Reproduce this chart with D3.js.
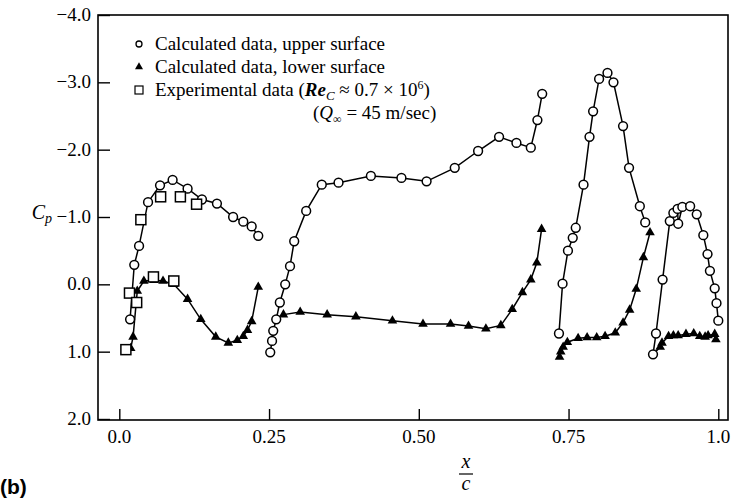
<!DOCTYPE html>
<html><head><meta charset="utf-8">
<script src="https://cdn.jsdelivr.net/npm/d3@7/dist/d3.min.js"></script>
<style>body{margin:0;background:#fff}svg{display:block}</style>
</head><body>
<svg id="c" width="736" height="498"></svg>
<script>
// ---- data ----
const xTickVals = [0, 0.25, 0.5, 0.75, 1.0];
const xTickLabels = ["0.0", "0.25", "0.50", "0.75", "1.0"];
const yTickVals = [-4, -3, -2, -1, 0, 1, 2];
const yTickLabels = ["\u22124.0", "\u22123.0", "\u22122.0", "\u22121.0", "0.0", "1.0", "2.0"];

const slatUpper = [[0.018,0.52],[0.025,-0.29],[0.033,-0.57],[0.048,-1.22],[0.068,-1.47],[0.089,-1.55],[0.114,-1.42],[0.138,-1.26],[0.163,-1.2],[0.19,-1.0],[0.207,-0.93],[0.221,-0.86],[0.232,-0.72]];
const slatLower = [[0.019,0.95],[0.023,0.78],[0.030,0.1],[0.041,-0.05],[0.058,-0.06],[0.073,-0.05],[0.091,0.0],[0.114,0.22],[0.136,0.52],[0.161,0.78],[0.182,0.87],[0.197,0.83],[0.207,0.77],[0.214,0.68],[0.221,0.55],[0.232,0.04]];
const mainUpper = [[0.252,1.01],[0.255,0.84],[0.257,0.69],[0.262,0.52],[0.268,0.27],[0.277,0.0],[0.285,-0.27],[0.292,-0.64],[0.312,-1.09],[0.338,-1.48],[0.366,-1.51],[0.42,-1.61],[0.471,-1.58],[0.513,-1.53],[0.56,-1.73],[0.599,-1.98],[0.634,-2.19],[0.663,-2.1],[0.687,-2.03],[0.698,-2.44],[0.706,-2.83]];
const mainLower = [[0.274,0.45],[0.302,0.41],[0.347,0.45],[0.395,0.48],[0.456,0.54],[0.507,0.59],[0.553,0.59],[0.583,0.62],[0.612,0.66],[0.637,0.61],[0.656,0.37],[0.673,0.12],[0.687,-0.07],[0.697,-0.32],[0.705,-0.82]];
const flap1Upper = [[0.734,0.73],[0.74,-0.01],[0.749,-0.5],[0.757,-0.69],[0.762,-0.84],[0.775,-1.48],[0.785,-2.19],[0.791,-2.57],[0.801,-3.05],[0.815,-3.14],[0.825,-3.0],[0.841,-2.35],[0.851,-1.73],[0.869,-1.16],[0.878,-0.92]];
const flap1Lower = [[0.735,1.08],[0.737,1.0],[0.741,0.93],[0.748,0.86],[0.766,0.8],[0.781,0.79],[0.797,0.79],[0.811,0.77],[0.828,0.72],[0.841,0.57],[0.852,0.38],[0.863,0.07],[0.875,-0.4],[0.886,-0.77]];
const flap2Upper = [[0.891,1.04],[0.896,0.73],[0.907,-0.07],[0.919,-0.94],[0.925,-1.06],[0.932,-1.12],[0.933,-0.9],[0.94,-1.15],[0.953,-1.16],[0.964,-1.04],[0.975,-0.73],[0.982,-0.45],[0.986,-0.2],[0.994,0.06],[0.997,0.28],[1.0,0.54]];
const flap2Lower = [[0.903,0.93],[0.906,0.87],[0.917,0.77],[0.925,0.76],[0.933,0.76],[0.946,0.74],[0.959,0.73],[0.969,0.77],[0.978,0.78],[0.983,0.76],[0.994,0.74],[0.996,0.82]];
const experimental = [[0.011,0.97],[0.017,0.13],[0.029,0.27],[0.036,-0.96],[0.057,-0.11],[0.069,-1.3],[0.091,-0.05],[0.102,-1.3],[0.129,-1.19]];

const legendLabels = ["Calculated data, upper surface", "Calculated data, lower surface"];

// ---- drawing ----
const svg = d3.select("#c");
const serif = "'Liberation Serif','Times New Roman',serif";
const x = d3.scaleLinear().domain([0, 1]).range([119.3, 718.3]);
const y = d3.scaleLinear().domain([-4, 2]).range([15, 419]);
const frame = {l: 98, r: 728, t: 15, b: 420};

const g = svg.append("g");
g.append("rect").attr("x", frame.l).attr("y", frame.t).attr("width", frame.r - frame.l).attr("height", frame.b - frame.t)
  .attr("fill", "none").attr("stroke", "#000").attr("stroke-width", 1.6);

// y axis (ticks inward)
const yAxis = d3.axisRight(y).tickValues(yTickVals).tickSize(12).tickFormat("");
const ya = g.append("g").attr("transform", `translate(${frame.l},0)`).call(yAxis);
ya.select(".domain").remove();
ya.selectAll("line").attr("stroke-width", 1.4);
g.selectAll(".ylab").data(yTickVals).enter().append("text")
  .attr("x", 91).attr("y", d => y(d) + 6).attr("text-anchor", "end")
  .attr("font-family", serif).attr("font-size", 19).text((d, i) => yTickLabels[i]);

// x axis (ticks inward)
const xAxis = d3.axisTop(x).tickValues(xTickVals).tickSize(11).tickFormat("");
const xa = g.append("g").attr("transform", `translate(0,${frame.b})`).call(xAxis);
xa.select(".domain").remove();
xa.selectAll("line").attr("stroke-width", 1.4);
g.selectAll(".xlab").data(xTickVals).enter().append("text")
  .attr("x", d => x(d)).attr("y", 443).attr("text-anchor", "middle")
  .attr("font-family", serif).attr("font-size", 19).text((d, i) => xTickLabels[i]);

// axis titles
const cp = g.append("text").attr("x", 52).attr("y", 219).attr("text-anchor", "end")
  .attr("font-family", serif).attr("font-size", 20).attr("font-style", "italic");
cp.append("tspan").text("C");
cp.append("tspan").attr("font-size", 14).attr("dy", 4).text("p");

g.append("text").attr("x", 466).attr("y", 468).attr("text-anchor", "middle")
  .attr("font-family", serif).attr("font-size", 20).attr("font-style", "italic").text("x");
g.append("line").attr("x1", 459).attr("x2", 473).attr("y1", 474).attr("y2", 474).attr("stroke", "#000").attr("stroke-width", 1.2);
g.append("text").attr("x", 466).attr("y", 490).attr("text-anchor", "middle")
  .attr("font-family", serif).attr("font-size", 20).attr("font-style", "italic").text("c");

g.append("text").attr("x", 0).attr("y", 494).attr("font-family", "'Liberation Sans',Arial,sans-serif")
  .attr("font-weight", "bold").attr("font-size", 21).text("(b)");

// lines
const line = d3.line().x(d => x(d[0])).y(d => y(d[1]));
[slatUpper, slatLower, mainUpper, mainLower, flap1Upper, flap1Lower, flap2Upper,
 [flap2Upper[0]].concat(flap2Lower)].forEach(s => {
  g.append("path").attr("d", line(s)).attr("fill", "none").attr("stroke", "#000").attr("stroke-width", 1.5);
});

const tri = d3.symbol().type(d3.symbolTriangle).size(40);
[slatLower, mainLower, flap1Lower, flap2Lower].forEach(s => {
  g.append("g").selectAll("path").data(s).enter().append("path")
    .attr("d", tri).attr("transform", d => `translate(${x(d[0])},${y(d[1])})`).attr("fill", "#000");
});
[slatUpper, mainUpper, flap1Upper, flap2Upper].forEach(s => {
  g.append("g").selectAll("circle").data(s).enter().append("circle")
    .attr("cx", d => x(d[0])).attr("cy", d => y(d[1])).attr("r", 4.4)
    .attr("fill", "#fff").attr("stroke", "#000").attr("stroke-width", 1.5);
});
g.append("g").selectAll("rect").data(experimental).enter().append("rect")
  .attr("x", d => x(d[0]) - 5).attr("y", d => y(d[1]) - 5).attr("width", 10).attr("height", 10)
  .attr("fill", "#fff").attr("stroke", "#000").attr("stroke-width", 1.5);

// legend
const lg = g.append("g");
const ly = [44, 67, 90];
lg.append("circle").attr("cx", 139).attr("cy", ly[0]).attr("r", 3).attr("fill", "#fff").attr("stroke", "#000").attr("stroke-width", 1.3);
lg.append("path").attr("d", d3.symbol().type(d3.symbolTriangle).size(28)).attr("transform", `translate(139,${ly[1]})`).attr("fill", "#000");
lg.append("rect").attr("x", 135).attr("y", ly[2] - 4).attr("width", 8).attr("height", 8).attr("fill", "#fff").attr("stroke", "#000").attr("stroke-width", 1.2);
legendLabels.forEach((t, i) => {
  lg.append("text").attr("x", 155).attr("y", ly[i] + 6).attr("font-family", serif).attr("font-size", 19).text(t);
});
const t3 = lg.append("text").attr("x", 155).attr("y", ly[2] + 6).attr("font-family", serif).attr("font-size", 19);
t3.append("tspan").text("Experimental data (");
t3.append("tspan").attr("font-style", "italic").attr("font-weight", "bold").text("Re");
t3.append("tspan").attr("font-style", "italic").attr("font-size", 13).attr("dy", 4).text("C");
t3.append("tspan").attr("dy", -4).text(" \u2248 0.7 \u00d7 10");
t3.append("tspan").attr("font-size", 12).attr("dy", -7).text("6");
t3.append("tspan").attr("dy", 7).text(")");
const t4 = lg.append("text").attr("x", 313).attr("y", 119).attr("font-family", serif).attr("font-size", 19);
t4.append("tspan").text("(");
t4.append("tspan").attr("font-style", "italic").text("Q");
t4.append("tspan").attr("font-size", 12).attr("dy", 4).text("\u221e");
t4.append("tspan").attr("dy", -4).text(" = 45 m/sec)");
</script>
</body></html>
